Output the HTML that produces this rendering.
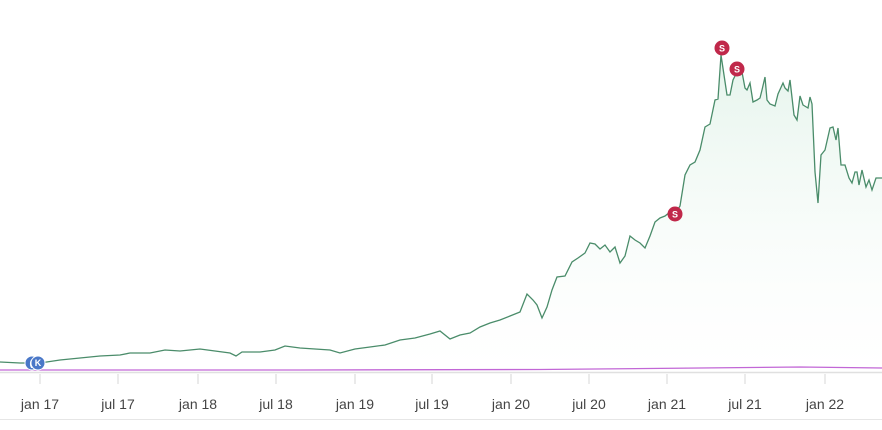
<!DOCTYPE html>
<html><head><style>
body{margin:0;background:#fff;width:882px;height:425px;overflow:hidden;font-family:"Liberation Sans",Roboto,sans-serif}
</style></head><body>
<svg width="882" height="425" viewBox="0 0 882 425" xmlns="http://www.w3.org/2000/svg">
<defs><linearGradient id="g" x1="0" y1="0" x2="0" y2="1"><stop offset="0" stop-color="#e3f3ea" stop-opacity="0.9"/><stop offset="1" stop-color="#ffffff" stop-opacity="0.3"/></linearGradient></defs>
<polygon fill="url(#g)" points="0,370 0,362 20,363 40,363 60,360 80,358 100,356 120,355 130,353 150,353 165,350 180,351 200,349 215,351 230,353 236,356 242,352 260,352 275,350 285,346 300,348 315,349 330,350 340,353 355,349 370,347 385,345 400,340 415,338 430,334 440,331 450,339 460,335 470,333 480,327 490,323 500,320 510,316 520,312 527,294 533,300 537,305 542,318 547,307 552,290 557,277 565,276 572,262 578,258 585,253 590,243 595,244 600,249 605,245 610,252 615,247 620,263 625,256 630,236 635,240 640,243 645,248 650,236 655,222 660,218 665,216 670,212 675,214 680,206 685,175 690,165 695,162 700,150 705,127 710,124 715,100 718,99 721,55 727,95 730,95 733,80 738,70 742,72 745,88 747,90 750,83 753,102 757,100 760,98 762,90 765,77 767,100 770,104 775,106 778,94 783,83 785,88 788,91 790,80 794,115 797,120 800,96 803,105 808,108 810,97 812,104 815,172 818,203 821,155 825,150 830,128 833,127 836,140 838,128 841,165 845,165 849,178 852,183 855,172 857,172 859,185 862,170 866,187 869,180 872,190 876,178 882,178 882,370"/>
<polyline fill="none" stroke="#4a8c6a" stroke-width="1.3" points="0,362 20,363 40,363 60,360 80,358 100,356 120,355 130,353 150,353 165,350 180,351 200,349 215,351 230,353 236,356 242,352 260,352 275,350 285,346 300,348 315,349 330,350 340,353 355,349 370,347 385,345 400,340 415,338 430,334 440,331 450,339 460,335 470,333 480,327 490,323 500,320 510,316 520,312 527,294 533,300 537,305 542,318 547,307 552,290 557,277 565,276 572,262 578,258 585,253 590,243 595,244 600,249 605,245 610,252 615,247 620,263 625,256 630,236 635,240 640,243 645,248 650,236 655,222 660,218 665,216 670,212 675,214 680,206 685,175 690,165 695,162 700,150 705,127 710,124 715,100 718,99 721,55 727,95 730,95 733,80 738,70 742,72 745,88 747,90 750,83 753,102 757,100 760,98 762,90 765,77 767,100 770,104 775,106 778,94 783,83 785,88 788,91 790,80 794,115 797,120 800,96 803,105 808,108 810,97 812,104 815,172 818,203 821,155 825,150 830,128 833,127 836,140 838,128 841,165 845,165 849,178 852,183 855,172 857,172 859,185 862,170 866,187 869,180 872,190 876,178 882,178"/>
<line x1="0" y1="372.5" x2="882" y2="372.5" stroke="#e0e0e0" stroke-width="1.5"/>
<polyline fill="none" stroke="#c267d6" stroke-width="1.3" points="0,370 300,370 540,369.5 700,368 800,367 882,368"/>
<g stroke="#ddd" stroke-width="1.2">
<line x1="40" y1="374" x2="40" y2="384"/><line x1="118" y1="374" x2="118" y2="384"/><line x1="198" y1="374" x2="198" y2="384"/><line x1="276" y1="374" x2="276" y2="384"/><line x1="355" y1="374" x2="355" y2="384"/><line x1="432" y1="374" x2="432" y2="384"/><line x1="511" y1="374" x2="511" y2="384"/><line x1="589" y1="374" x2="589" y2="384"/><line x1="667" y1="374" x2="667" y2="384"/><line x1="745" y1="374" x2="745" y2="384"/><line x1="825" y1="374" x2="825" y2="384"/>
</g>
<line x1="0" y1="419.5" x2="882" y2="419.5" stroke="#e6e6e6"/>
<g font-size="14" fill="#444" text-anchor="middle">
<text x="40" y="409">jan 17</text><text x="118" y="409">jul 17</text><text x="198" y="409">jan 18</text><text x="276" y="409">jul 18</text><text x="355" y="409">jan 19</text><text x="432" y="409">jul 19</text><text x="511" y="409">jan 20</text><text x="589" y="409">jul 20</text><text x="667" y="409">jan 21</text><text x="745" y="409">jul 21</text><text x="825" y="409">jan 22</text>
</g>
<g font-size="9" font-weight="bold" fill="#fff" text-anchor="middle">
<circle cx="32" cy="363" r="7" fill="#4a78c8" stroke="#fff" stroke-width="1"/><text x="31" y="366">(</text>
<circle cx="38" cy="363" r="7" fill="#4a78c8" stroke="#fff" stroke-width="1"/><text x="38" y="366">K</text>
<circle cx="675" cy="214" r="7.5" fill="#c0284a"/><text x="675" y="217.5">S</text>
<circle cx="722" cy="48" r="7.5" fill="#c0284a"/><text x="722" y="51.5">S</text>
<circle cx="737" cy="69" r="7.5" fill="#c0284a"/><text x="737" y="72.5">S</text>
</g>
</svg>
</body></html>
